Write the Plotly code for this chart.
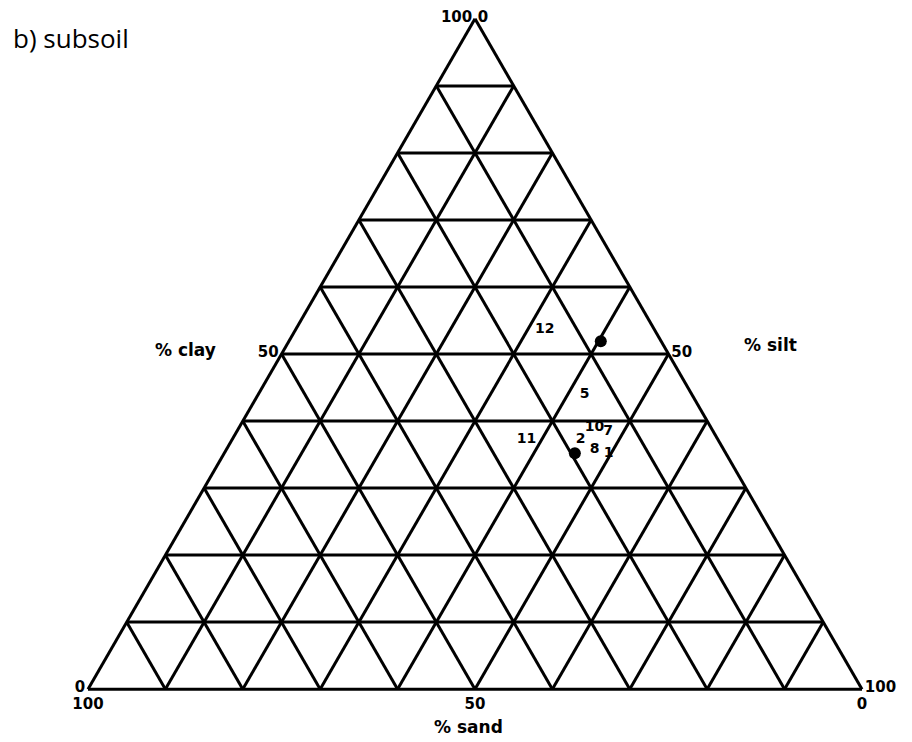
import plotly.graph_objects as go

# Subsoil texture samples (percent by mass)
sample_ids = ["12", "5", "10", "7", "11", "2", "8", "1"]
clay = [53.6, 43.9, 39.1, 38.4, 37.3, 37.3, 35.7, 35.1]
silt = [32.2, 42.2, 45.9, 48.0, 38.0, 45.0, 47.6, 49.7]
sand = [14.2, 13.9, 15.0, 13.6, 24.7, 17.7, 16.7, 15.2]

# Clusters of overlapping samples drawn as filled dots
cluster_clay = [51.9, 35.2]
cluster_silt = [40.3, 45.3]
cluster_sand = [7.8, 19.5]

tick_vals = list(range(0, 101, 10))
tick_text = [str(v) if v in (0, 50, 100) else "" for v in tick_vals]

W, H = 912, 742
ML, MR, MT, MB = 88, 50, 18, 52


def px(x, y):
    """Pixel position -> paper coordinates."""
    return (x - ML) / (W - ML - MR), 1 - (y - MT) / (H - MT - MB)


fig = go.Figure()
fig.add_trace(go.Scatterternary(
    a=cluster_clay, b=cluster_sand, c=cluster_silt,
    mode="markers",
    marker=dict(color="black", size=12),
    hoverinfo="skip", showlegend=False,
))
fig.add_trace(go.Scatterternary(
    a=clay, b=sand, c=silt,
    mode="text", text=sample_ids,
    textfont=dict(family="DejaVu Sans", size=14, color="black", weight="bold"),
    showlegend=False,
))

axis_style = dict(
    tickmode="array", tickvals=tick_vals, ticktext=tick_text,
    ticks="", showgrid=True, gridcolor="black", gridwidth=2.5,
    linecolor="black", linewidth=3, showline=True,
    tickfont=dict(family="DejaVu Sans", size=15, color="black", weight="bold"),
    min=0, title=dict(text=""),
)

fig.update_layout(
    width=W, height=H,
    margin=dict(l=ML, r=MR, t=MT, b=MB),
    paper_bgcolor="white",
    ternary=dict(
        sum=100, bgcolor="white",
        aaxis=axis_style, baxis=axis_style, caxis=axis_style,
    ),
)

labels = [
    ("b) subsoil", 11, 38, "left", 26, "Open Sans", False),
    ("% clay", 185, 350, "center", 17, "DejaVu Sans", True),
    ("% silt", 770, 345, "center", 17, "DejaVu Sans", True),
    ("% sand", 468, 727, "center", 17, "DejaVu Sans", True),
]
for text, x, y, anchor, size, fam, bold in labels:
    xp, yp = px(x, y)
    fig.add_annotation(
        x=xp, y=yp, xref="paper", yref="paper", showarrow=False,
        xanchor=anchor, yanchor="middle",
        text=f"<b>{text}</b>" if bold else text,
        font=dict(family=fam, size=size, color="black"),
    )

fig.write_html("out.html")
